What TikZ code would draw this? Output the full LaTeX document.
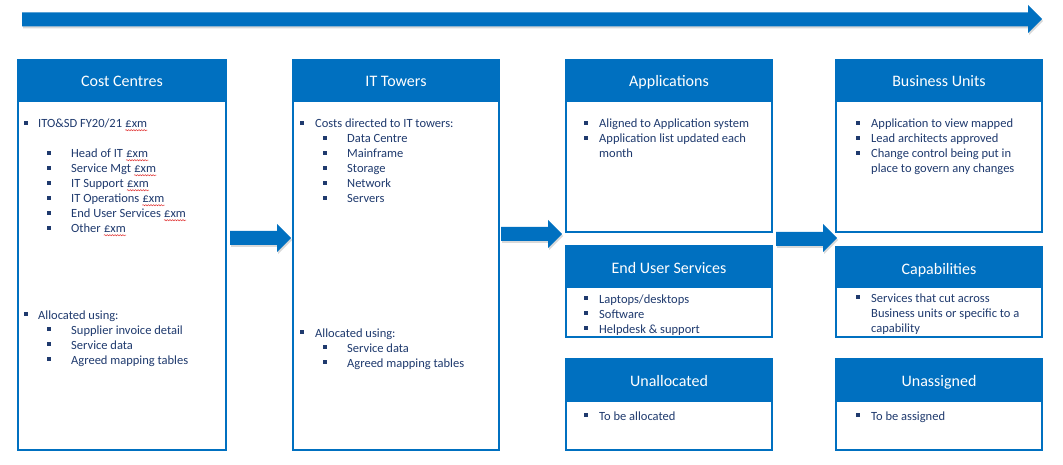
\documentclass[tikz,border=0pt]{standalone}
\usepackage{fontspec}
\setmainfont{Carlito}
\usetikzlibrary{shadows,decorations.pathmorphing}
\definecolor{hblue}{HTML}{0070C0}
\definecolor{tnavy}{HTML}{1F3A6E}
\definecolor{sqred}{HTML}{E03030}
\tikzset{
  boxframe/.style={draw=hblue, line width=1.6pt, fill=white},
  headfill/.style={fill=hblue, draw=hblue, line width=1.6pt},
  title/.style={text=white, font=\fontsize{16}{18}\selectfont, anchor=base, inner sep=0pt},
  body/.style={text=tnavy, font=\fontsize{12.5}{15}\selectfont, anchor=base west, inner sep=0pt, align=left},
  bul/.style={fill=tnavy, minimum size=3.6pt, inner sep=0pt, rectangle},
  blockarrow/.style={fill=hblue, draw=none, drop shadow={shadow xshift=1pt, shadow yshift=-2pt, opacity=0.25, fill=black!60}},
  squiggle/.style={draw=sqred, line width=0.5pt, decorate, decoration={snake, amplitude=0.6pt, segment length=2.6pt}},
}
% spell-check style wavy underline
\newcommand{\wavy}[1]{\tikz[baseline=(w.base), x=1pt, y=1pt]{\node[inner sep=0pt] (w) {#1};
  \draw[squiggle] ([yshift=-2.2pt]w.base west) -- ([yshift=-2.2pt]w.base east);}}
% \pitem{x bullet}{x text}{baseline}{name}{text}
\newcommand{\pitem}[5]{%
  \node[bul] (#4b) at (#1+1.7,#3-4.8) {};
  \node[body] (#4) at (#2,#3) {#5};}
\newcommand{\ptext}[3]{\node[body] (#2) at (#1) {#3};}
\newcommand{\panel}[7]{% name, x1, y1, x2, yheader, y2, title
  \draw[boxframe] (#2,#3) rectangle (#4,#6);
  \draw[headfill] (#2,#3) rectangle (#4,#5);
  \node[title] (#1) at ({(#2+#4)/2},87+#3-60) {#7};}
\begin{document}
\begin{tikzpicture}[x=1pt,y=-1pt]
\useasboundingbox (0,0) rectangle (1063,465);
% top timeline arrow
\fill[blockarrow] (22,12.5) -- (1028,12.5) -- (1028,5) -- (1042,19) -- (1028,33) -- (1028,26.5) -- (22,26.5) -- cycle;
% panels
\panel{cc}{18}{60}{226}{101}{450}{Cost Centres}
\panel{it}{293}{60}{499}{101}{450}{IT Towers}
\panel{ap}{566}{60}{772}{101}{232}{Applications}
\panel{eu}{566}{246}{772}{287}{337}{End User Services}
\panel{ua}{566}{359}{772}{401}{450}{Unallocated}
\panel{bu}{836}{60}{1042}{101}{232}{Business Units}
\panel{cp}{836}{247}{1042}{287}{337}{Capabilities}
\panel{us}{836}{359}{1042}{401}{450}{Unassigned}
% block arrows between columns
\fill[blockarrow] (230,231) -- (277,231) -- (277,224) -- (291,238) -- (277,252) -- (277,245) -- (230,245) -- cycle;
\fill[blockarrow] (501,227) -- (548,227) -- (548,220) -- (562,234) -- (548,248) -- (548,241) -- (501,241) -- cycle;
\fill[blockarrow] (776,232) -- (823,232) -- (823,224) -- (837,238) -- (823,252) -- (823,246) -- (776,246) -- cycle;
% Cost Centres text
\pitem{24}{38}{128}{cc1}{ITO\&SD FY20/21 \wavy{£xm}}
\pitem{47}{71}{158}{cc2}{Head of IT \wavy{£xm}}
\pitem{47}{71}{173}{cc3}{Service Mgt \wavy{£xm}}
\pitem{47}{71}{188}{cc4}{IT Support \wavy{£xm}}
\pitem{47}{71}{203}{cc5}{IT Operations \wavy{£xm}}
\pitem{47}{71}{218}{cc6}{End User Services \wavy{£xm}}
\pitem{47}{71}{233}{cc7}{Other \wavy{£xm}}
\pitem{24}{38}{319}{cc8}{Allocated using:}
\pitem{47}{71}{334}{cc9}{Supplier invoice detail}
\pitem{47}{71}{349}{cc10}{Service data}
\pitem{47}{71}{364}{cc11}{Agreed mapping tables}
% IT Towers text
\pitem{300}{315}{128}{it1}{Costs directed to IT towers:}
\pitem{323}{347}{143}{it2}{Data Centre}
\pitem{323}{347}{158}{it3}{Mainframe}
\pitem{323}{347}{173}{it4}{Storage}
\pitem{323}{347}{188}{it5}{Network}
\pitem{323}{347}{203}{it6}{Servers}
\pitem{300}{315}{337}{it7}{Allocated using:}
\pitem{323}{347}{352}{it8}{Service data}
\pitem{323}{347}{367}{it9}{Agreed mapping tables}
% Applications
\pitem{584}{599}{128}{ap1}{Aligned to Application system}
\pitem{584}{599}{143}{ap2}{Application list updated each}
\ptext{599,158}{ap3}{month}
% End User Services
\pitem{584}{599}{303}{eu1}{Laptops/desktops}
\pitem{584}{599}{318}{eu2}{Software}
\pitem{584}{599}{333}{eu3}{Helpdesk \& support}
% Unallocated
\pitem{584}{599}{420}{ua1}{To be allocated}
% Business Units
\pitem{856}{871}{128}{bu1}{Application to view mapped}
\pitem{856}{871}{143}{bu2}{Lead architects approved}
\pitem{856}{871}{158}{bu3}{Change control being put in}
\ptext{871,173}{bu4}{place to govern any changes}
% Capabilities
\pitem{856}{871}{302}{cp1}{Services that cut across}
\ptext{871,317}{cp2}{Business units or specific to a}
\ptext{871,332}{cp3}{capability}
% Unassigned
\pitem{856}{871}{420}{us1}{To be assigned}
\end{tikzpicture}
\end{document}
